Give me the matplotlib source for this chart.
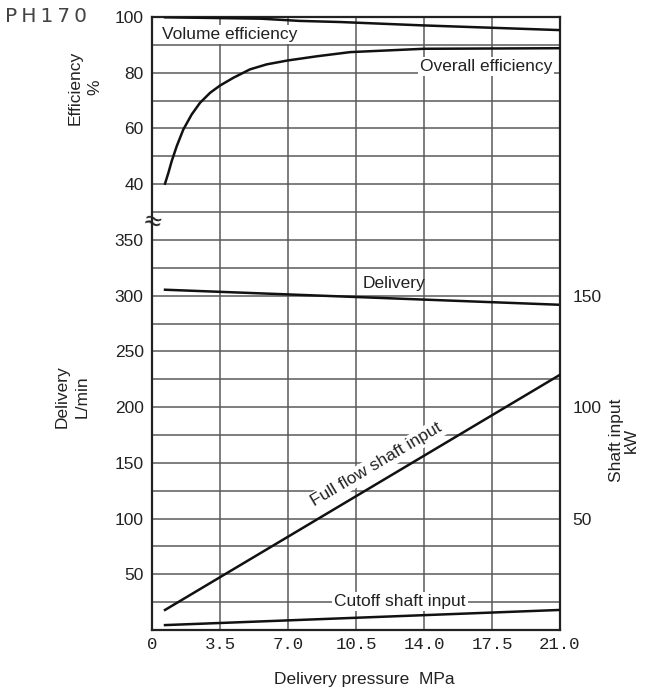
import matplotlib
matplotlib.use("Agg")
import matplotlib.pyplot as plt

plt.rcParams["font.family"] = ["Liberation Sans", "DejaVu Sans"]

# delivery pressure (MPa) sample points
p_vol = [0.67, 5.6, 7.6, 9.7, 13.9, 21.0]
vol_eff = [99.9, 99.4, 98.6, 98.2, 97.0, 95.3]

p_all = [0.67, 0.84, 1.01, 1.27, 1.61, 2.04, 2.47, 2.99, 3.5, 4.19,
         5.04, 5.9, 6.98, 8.48, 10.2, 14.0, 17.5, 21.0]
all_eff = [40.2, 44.0, 48.2, 53.6, 59.6, 65.0, 69.2, 72.8, 75.4, 78.2,
           81.2, 83.0, 84.4, 85.9, 87.4, 88.6, 88.7, 88.8]

p_line = [0.67, 21.0]
delivery = [305.3, 291.8]        # L/min
full_flow = [9.0, 114.5]         # kW
cutoff = [2.2, 9.0]              # kW

x_ticks = [0, 3.5, 7.0, 10.5, 14.0, 17.5, 21.0]
x_labels = ["0", "3.5", "7.0", "10.5", "14.0", "17.5", "21.0"]
deliv_ticks = [50, 100, 150, 200, 250, 300, 350]
eff_ticks = [40, 60, 80, 100]
kw_ticks = [50, 100, 150]

fig = plt.figure(figsize=(6.51, 7.00), dpi=100)
ax = fig.add_axes([0.2335, 0.1, 0.6267, 0.8757])
ax.set_xlim(0, 21)
ax.set_ylim(0, 550)

# grid
grid_kw = dict(color="#5a5a5a", lw=1.1, zorder=1)
for y in range(25, 550, 25):
    ax.axhline(y, **grid_kw)
for x in x_ticks[1:-1]:
    ax.axvline(x, **grid_kw)

for s in ax.spines.values():
    s.set_linewidth(1.6)
    s.set_color("#222222")
    s.set_zorder(5)

ax.set_xticks(x_ticks)
ax.set_xticklabels(x_labels, fontfamily=["Liberation Mono", "DejaVu Sans Mono"],
                   fontsize=12, color="#333333")
ax.set_yticks(deliv_ticks)
ax.tick_params(length=0, labelsize=12.5, pad=6, colors="#222222")
ax.tick_params(axis="x", pad=5)

# efficiency axis shares the left side
ax_e = ax.twinx()
ax_e.set_ylim(-120, 100)
ax_e.yaxis.tick_left()
ax_e.set_yticks(eff_ticks)
ax_e.tick_params(length=0, labelsize=12.5, pad=6, colors="#222222")
for s in ax_e.spines.values():
    s.set_visible(False)

# shaft input axis on the right
ax_k = ax.twinx()
ax_k.set_ylim(0, 275)
ax_k.set_yticks(kw_ticks)
ax_k.tick_params(length=0, labelsize=12.5, pad=9, colors="#222222")
for s in ax_k.spines.values():
    s.set_visible(False)

line_kw = dict(color="#111111", lw=1.8, zorder=3)
ax.plot(p_line, delivery, **line_kw)
ax_e.plot(p_vol, vol_eff, **line_kw)
ax_e.plot(p_all, all_eff, **line_kw)
ax_k.plot(p_line, full_flow, **line_kw)
ax_k.plot(p_line, cutoff, **line_kw)

box = dict(facecolor="white", edgecolor="none", pad=1.5)
tkw = dict(fontsize=12.5, color="#222222", ha="center", va="center", zorder=4)
ax_e.text(4.0, 93.8, "Volume efficiency", bbox=box, **tkw)
ax_e.text(17.2, 82.3, "Overall efficiency", bbox=box, **tkw)
ax.text(12.45, 311, "Delivery", **tkw)
ax_k.text(12.76, 12.7, "Cutoff shaft input", bbox=box, **tkw)
ax_k.text(11.56, 74.1, "Full flow shaft input", rotation=30.7,
          rotation_mode="anchor", bbox=box, **tkw)

# axis break mark
ax.text(0, 366, "≈", fontfamily="DejaVu Sans", fontsize=17, ha="center",
        va="center", color="#222222", rotation=-15, zorder=6, clip_on=False)

fig.text(0.008, 0.976, "P\u2009H\u20091\u20097\u20090", fontfamily="DejaVu Sans",
         fontsize=14.5, color="#444444", ha="left", va="center")
fig.text(0.13, 0.875, "Efficiency\n%", rotation=90, fontsize=12.5,
         ha="center", va="center", linespacing=1.4, color="#222222")
fig.text(0.111, 0.434, "Delivery\nL/min", rotation=90, fontsize=12.5,
         ha="center", va="center", linespacing=1.4, color="#222222")
fig.text(0.958, 0.371, "Shaft input\nkW", rotation=90, fontsize=12.5,
         ha="center", va="center", linespacing=1.0, color="#222222")
fig.text(0.559, 0.029, "Delivery pressure  MPa", fontsize=12.5,
         ha="center", va="center", color="#222222")

fig.savefig("out.png", dpi=100)
